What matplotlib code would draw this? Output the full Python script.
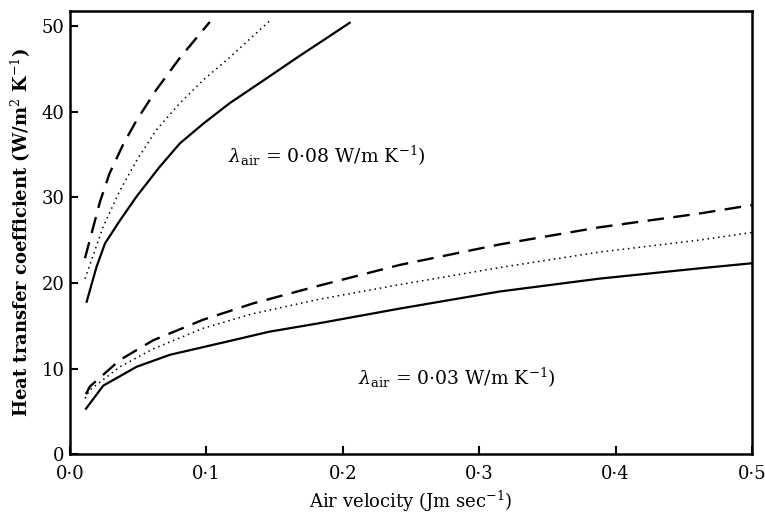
import matplotlib
matplotlib.use("Agg")
import matplotlib.pyplot as plt

# ----------------------------------------------------
#        DATA
# ----------------------------------------------------
# lambda_air = 0.08 W/m K^-1 (upper group)
hi_solid_x = [0.0122, 0.0195, 0.0256, 0.0366, 0.0488, 0.0659, 0.0805, 0.0976, 0.117, 0.144, 0.168, 0.188, 0.205]
hi_solid_y = [17.8, 21.9, 24.6, 27.3, 30.1, 33.6, 36.3, 38.6, 41.0, 43.9, 46.5, 48.6, 50.4]

hi_dash_x = [0.011, 0.022, 0.029, 0.039, 0.0488, 0.0634, 0.0805, 0.1025]
hi_dash_y = [22.9, 29.5, 32.8, 36.2, 39.0, 42.6, 46.3, 50.5]

hi_dot_x = [0.011, 0.0244, 0.0366, 0.0488, 0.0634, 0.0805, 0.0976, 0.116, 0.1476]
hi_dot_y = [20.5, 26.6, 30.8, 34.3, 37.9, 41.0, 43.7, 46.2, 50.8]

# lambda_air = 0.03 W/m K^-1 (lower group)
lo_solid_x = [0.0117, 0.0244, 0.0488, 0.0732, 0.0976, 0.122, 0.146, 0.183, 0.2416, 0.315, 0.388, 0.461, 0.5]
lo_solid_y = [5.3, 8.0, 10.2, 11.6, 12.5, 13.4, 14.3, 15.3, 17.0, 19.0, 20.5, 21.7, 22.3]

lo_dash_x = [0.0117, 0.0146, 0.0366, 0.061, 0.0976, 0.134, 0.183, 0.2416, 0.315, 0.388, 0.461, 0.5]
lo_dash_y = [7.0, 7.9, 11.0, 13.3, 15.7, 17.6, 19.7, 22.1, 24.5, 26.5, 28.1, 29.1]

lo_dot_x = [0.011, 0.0146, 0.0366, 0.061, 0.0976, 0.134, 0.183, 0.2416, 0.315, 0.388, 0.461, 0.5]
lo_dot_y = [6.5, 7.5, 10.2, 12.3, 14.7, 16.4, 18.1, 19.8, 21.8, 23.6, 25.0, 25.9]

x_ticks = [0.0, 0.1, 0.2, 0.3, 0.4, 0.5]
x_tick_labels = ["0·0", "0·1", "0·2", "0·3", "0·4", "0·5"]
y_ticks = [0, 10, 20, 30, 40, 50]

# ----------------------------------------------------
#                     PLOT
# ----------------------------------------------------
plt.rcParams["font.family"] = ["DejaVu Serif"]
plt.rcParams["mathtext.fontset"] = "dejavuserif"

fig = plt.figure(figsize=(7.65, 5.16), dpi=100)
ax = fig.add_axes([0.0915, 0.120, 0.8915, 0.859])

for xs, ys in [(hi_solid_x, hi_solid_y), (lo_solid_x, lo_solid_y)]:
    ax.plot(xs, ys, color="black", lw=1.6, ls="-")
for xs, ys in [(hi_dash_x, hi_dash_y), (lo_dash_x, lo_dash_y)]:
    ax.plot(xs, ys, color="black", lw=1.7, ls=(0, (7, 4)))
for xs, ys in [(hi_dot_x, hi_dot_y), (lo_dot_x, lo_dot_y)]:
    ax.plot(xs, ys, color="black", lw=1.1, ls=(0, (1, 2.5)))

ax.text(0.1157, 34.9, r"$\lambda_{\mathrm{air}}$ = 0·08 W/m K$^{-1}$)",
        fontsize=13.5, va="center", ha="left")
ax.text(0.211, 8.9, r"$\lambda_{\mathrm{air}}$ = 0·03 W/m K$^{-1}$)",
        fontsize=13.5, va="center", ha="left")

ax.set_xlim(0, 0.5)
ax.set_ylim(0, 51.8)
ax.set_xticks(x_ticks)
ax.set_xticklabels(x_tick_labels)
ax.set_yticks(y_ticks)
ax.tick_params(direction="in", length=6, width=1.5, labelsize=13)
ax.tick_params(axis="x", pad=8)
ax.tick_params(axis="y", pad=4)

for s in ax.spines.values():
    s.set_linewidth(1.8)

ax.set_xlabel(r"Air velocity (Jm sec$^{-1}$)", fontsize=13, labelpad=4)
ax.set_ylabel(r"Heat transfer coefficient (W/m$^2$ K$^{-1}$)", fontsize=13,
              fontweight="bold", labelpad=6)

fig.savefig("out.png", dpi=100)
